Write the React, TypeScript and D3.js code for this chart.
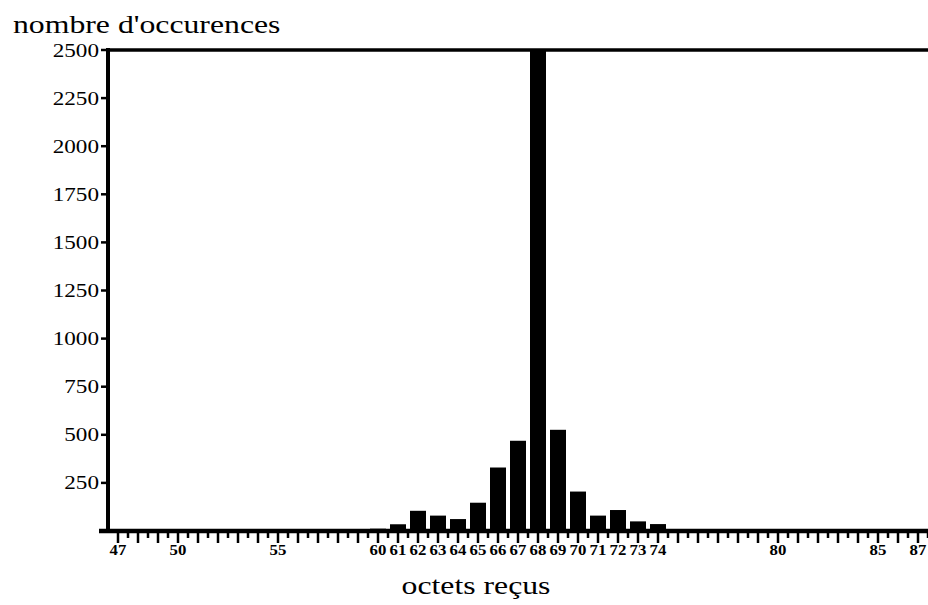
import React from 'react';
import * as d3 from 'd3';

// Data
const bins: number[] = [60, 61, 62, 63, 64, 65, 66, 67, 68, 69, 70, 71, 72, 73, 74, 75];
const counts: number[] = [12, 35, 105, 80, 62, 147, 330, 469, 2650, 526, 205, 80, 109, 50, 36, 8];
const xTickLabels: number[] = [47, 50, 55, 60, 61, 62, 63, 64, 65, 66, 67, 68, 69, 70, 71, 72, 73, 74, 80, 85, 87];
const yTickValues: number[] = [250, 500, 750, 1000, 1250, 1500, 1750, 2000, 2250, 2500];
const xDomain: [number, number] = [46.5, 87.5];
const yDomain: [number, number] = [0, 2500];
const yTitle = "nombre d'occurences";
const xTitle = 'octets reçus';

export default function App() {
  const W = 928, H = 605;
  const left = 108, right = 928, top = 50, bottom = 531;
  const x = d3.scaleLinear().domain(xDomain).range([left, right]);
  const y = d3.scaleLinear().domain(yDomain).range([bottom, top]).clamp(true);
  const step = x(1) - x(0);
  const barW = step * 0.8;
  const halfTicks = d3.range(47, 87.51, 0.5);
  const font = "'Liberation Serif', 'Times New Roman', serif";
  const stretch = 1.22;

  return (
    <svg width={W} height={H} viewBox={`0 0 ${W} ${H}`}
      style={{ position: 'absolute', left: 0, top: 0, background: '#fff' }}>
      <rect x={0} y={0} width={W} height={H} fill="#fff" />
      {/* title */}
      <g transform={`translate(13,33) scale(1.27,1)`}>
        <text x={0} y={0} fontFamily={font} fontSize={25} fill="#000">{yTitle}</text>
      </g>
      {/* bars */}
      {bins.map((b, i) => (
        <rect key={b} x={x(b) - barW / 2} y={y(counts[i])} width={barW}
          height={bottom - y(counts[i])} fill="#000" />
      ))}
      {/* frame: top line, y axis, x axis */}
      <line x1={left} x2={right} y1={top} y2={top} stroke="#000" strokeWidth={3.5} />
      <line x1={left} x2={left} y1={top - 2} y2={bottom + 2} stroke="#000" strokeWidth={4} />
      <line x1={99} x2={right} y1={bottom} y2={bottom} stroke="#000" strokeWidth={4.5} />
      {/* y ticks and labels */}
      {yTickValues.map(v => (
        <g key={v}>
          <line x1={101} x2={left} y1={y(v)} y2={y(v)} stroke="#000" strokeWidth={2.5} />
          <g transform={`translate(99,${y(v) + 6.5}) scale(${stretch},1)`}>
            <text x={0} y={0} textAnchor="end" fontFamily={font} fontSize={19} fill="#000">{v}</text>
          </g>
        </g>
      ))}
      {/* x ticks */}
      {halfTicks.map(t => (
        <line key={t} x1={x(t)} x2={x(t)} y1={bottom} y2={bottom + (Number.isInteger(t) ? 12 : 7)}
          stroke="#000" strokeWidth={2.5} />
      ))}
      {xTickLabels.map(t => (
        <g key={t} transform={`translate(${x(t)},555) scale(1.2,1)`}>
          <text x={0} y={0} textAnchor="middle" fontFamily={font} fontWeight="bold" fontSize={14} fill="#000">{t}</text>
        </g>
      ))}
      {/* x title */}
      <g transform={`translate(476,594) scale(1.27,1)`}>
        <text x={0} y={0} textAnchor="middle" fontFamily={font} fontSize={25} fill="#000">{xTitle}</text>
      </g>
    </svg>
  );
}
